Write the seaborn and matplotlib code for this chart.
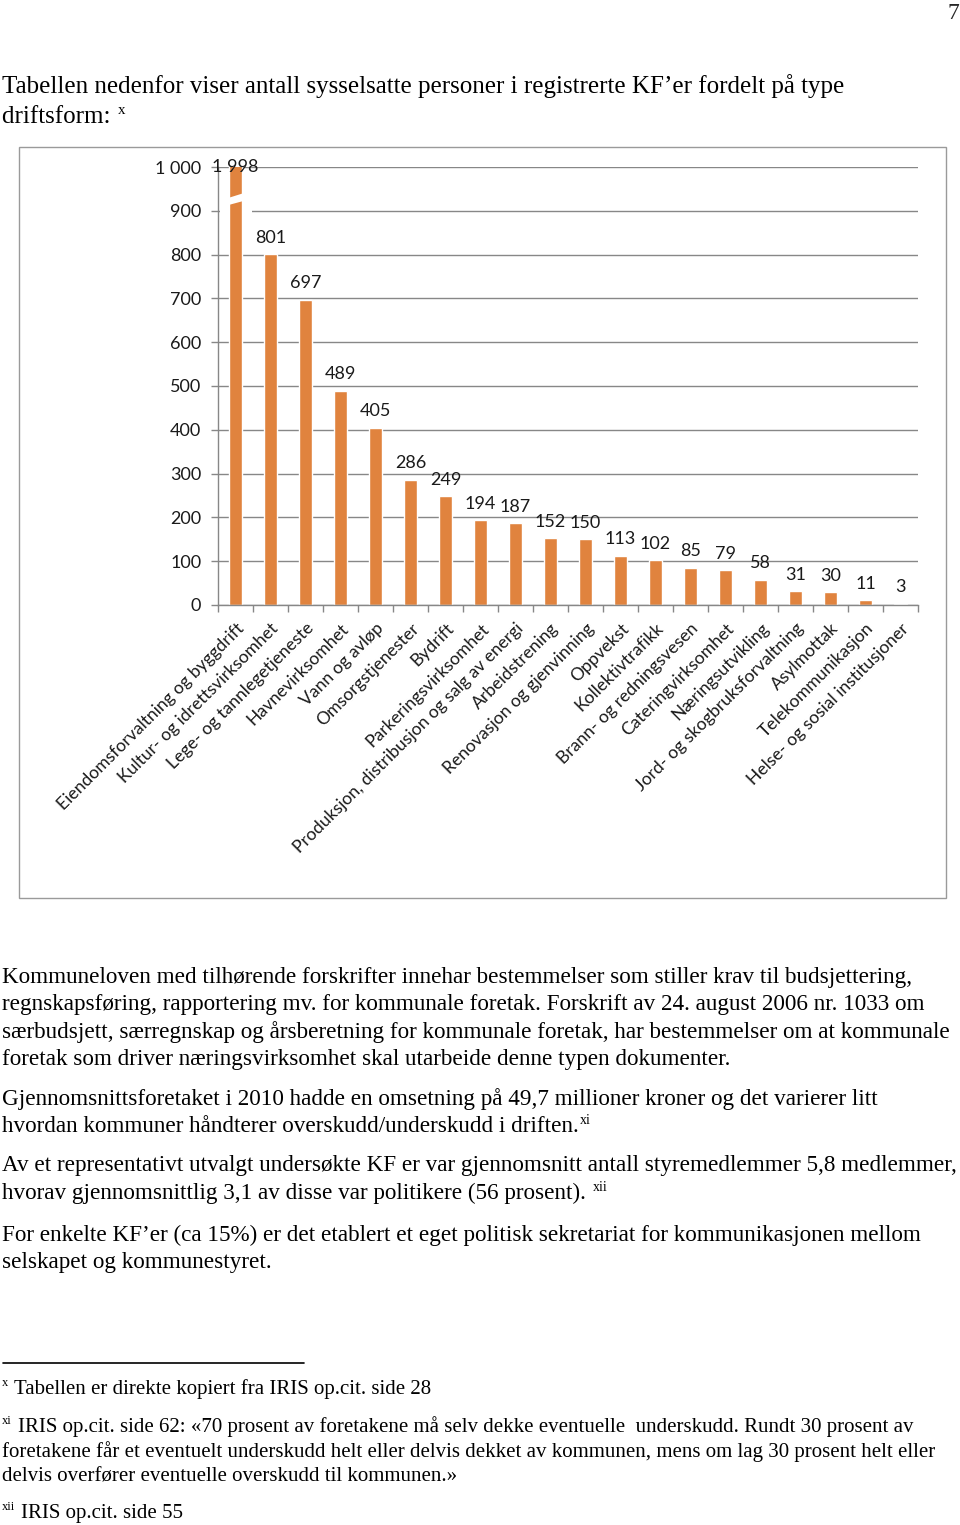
import numpy as np
import pandas as pd
import seaborn as sns
import matplotlib.pyplot as plt
from matplotlib.patches import Rectangle, Polygon

# Data (number of employees per KF type)
categories = [
    "Eiendomsforvaltning og byggdrift",
    "Kultur- og idrettsvirksomhet",
    "Lege- og tannlegetjeneste",
    "Havnevirksomhet",
    "Vann og avløp",
    "Omsorgstjenester",
    "Bydrift",
    "Parkeringsvirksomhet",
    "Produksjon, distribusjon og salg av energi",
    "Arbeidstrening",
    "Renovasjon og gjenvinning",
    "Oppvekst",
    "Kollektivtrafikk",
    "Brann- og redningsvesen",
    "Cateringvirksomhet",
    "Næringsutvikling",
    "Jord- og skogbruksforvaltning",
    "Asylmottak",
    "Telekommunikasjon",
    "Helse- og sosial institusjoner",
]
employees = [1998, 801, 697, 489, 405, 286, 249, 194, 187, 152,
             150, 113, 102, 85, 79, 58, 31, 30, 11, 3]
y_ticks = [0, 100, 200, 300, 400, 500, 600, 700, 800, 900, 1000]
y_tick_labels = ["0", "100", "200", "300", "400", "500", "600", "700", "800", "900", "1 000"]

df = pd.DataFrame({"driftsform": categories, "ansatte": employees})

sns.set_theme(style="white")
plt.rcParams["font.family"] = ["Lato", "DejaVu Sans"]
serif = ["Liberation Serif", "DejaVu Serif"]

W, H = 960, 1525
fig = plt.figure(figsize=(W / 100, H / 100), dpi=100)
fig.patch.set_facecolor("white")


def fx(px):
    return px / W


def fy(py):
    return 1 - py / H


grid_col = "#878787"
bar_col = "#E0833E"
ink = "#1a1a1a"

ax = fig.add_axes([fx(218), fy(605), fx(918) - fx(218), fy(167) - fy(605)])
sns.barplot(data=df, x="driftsform", y="ansatte", color=bar_col, saturation=1,
            width=0.36, ax=ax)
n = len(categories)
ax.set_xlim(-0.5, n - 0.5)
ax.set_ylim(0, 1000)
ax.set_xlabel("")
ax.set_ylabel("")

ax.grid(axis="y", color=grid_col, lw=1)
ax.set_axisbelow(True)
for side in ["top", "right"]:
    ax.spines[side].set_visible(False)
for side in ["left", "bottom"]:
    ax.spines[side].set_color(grid_col)
    ax.spines[side].set_linewidth(1)

ax.set_yticks(y_ticks, y_tick_labels)
ax.tick_params(axis="y", length=5, width=1, color=grid_col, pad=7,
               labelsize=13, labelcolor=ink, left=True)
ax.set_xticks(range(n), categories)
plt.setp(ax.get_xticklabels(), rotation=45, ha="right", rotation_mode="anchor",
         fontsize=12.6, color=ink)
ax.tick_params(axis="x", which="major", length=0, pad=11)
ax.set_xticks(np.arange(-0.5, n, 1), minor=True)
ax.tick_params(axis="x", which="minor", length=5, width=1, color=grid_col, bottom=True)

# value labels
for i, v in enumerate(employees):
    label = f"{v:,}".replace(",", " ")
    if v > 1000:
        ax.text(i, 1000, label, ha="center", va="center", fontsize=13, color=ink,
                zorder=6)
    else:
        ax.annotate(label, (i, v), xytext=(0, 6), textcoords="offset points",
                    ha="center", va="bottom", fontsize=13, color=ink)

# axis break on the first bar
ax.add_patch(Rectangle((-0.45, 895), 0.92, 10, facecolor="white", edgecolor="none",
                       zorder=0.8))
ax.add_patch(Polygon([(-0.3, 911), (0.3, 924), (0.3, 942), (-0.3, 927)], closed=True,
                     facecolor="white", edgecolor="none", zorder=5))

# chart frame
fig.patches.append(Rectangle((fx(19), fy(898)), fx(946) - fx(19), fy(147) - fy(898),
                             transform=fig.transFigure, fill=False,
                             edgecolor="#9a9a9a", lw=1))

renderer = fig.canvas.get_renderer()


def line(x, y, s, size, sup=None):
    t = fig.text(fx(x), fy(y), s, fontsize=size, family=serif, va="baseline", color="black")
    if sup:
        bb = t.get_window_extent(renderer)
        fig.text(bb.x1 / W + 1 / W, fy(y - size * 0.5), sup, fontsize=size * 0.6,
                 family=serif, va="baseline", color="black")


def foot(y, sup, s, size, text_x):
    fig.text(fx(2), fy(y - size * 0.5), sup, fontsize=size * 0.6, family=serif,
             va="baseline", color="black")
    fig.text(fx(text_x), fy(y), s, fontsize=size, family=serif, va="baseline", color="black")


fig.text(fx(959), fy(19), "7", fontsize=17, family=serif, ha="right", va="baseline")

line(2, 93, "Tabellen nedenfor viser antall sysselsatte personer i registrerte KF’er fordelt på type", 18)
line(2, 123, "driftsform: ", 18, sup="x")

body = 16.7
line(2, 983, "Kommuneloven med tilhørende forskrifter innehar bestemmelser som stiller krav til budsjettering,", body)
line(2, 1010, "regnskapsføring, rapportering mv. for kommunale foretak. Forskrift av 24. august 2006 nr. 1033 om", body)
line(2, 1038, "særbudsjett, særregnskap og årsberetning for kommunale foretak, har bestemmelser om at kommunale", body)
line(2, 1065, "foretak som driver næringsvirksomhet skal utarbeide denne typen dokumenter.", body)
line(2, 1105, "Gjennomsnittsforetaket i 2010 hadde en omsetning på 49,7 millioner kroner og det varierer litt", body)
line(2, 1132, "hvordan kommuner håndterer overskudd/underskudd i driften.", body, sup="xi")
line(2, 1171, "Av et representativt utvalgt undersøkte KF er var gjennomsnitt antall styremedlemmer 5,8 medlemmer,", body)
line(2, 1199, "hvorav gjennomsnittlig 3,1 av disse var politikere (56 prosent). ", body, sup="xii")
line(2, 1241, "For enkelte KF’er (ca 15%) er det etablert et eget politisk sekretariat for kommunikasjonen mellom", body)
line(2, 1268, "selskapet og kommunestyret.", body)

fig.add_artist(plt.Line2D([fx(3), fx(304)], [fy(1363), fy(1363)], color="black", lw=1.2))

fs = 15
foot(1394, "x", "Tabellen er direkte kopiert fra IRIS op.cit. side 28", fs, 14)
foot(1432, "xi", "IRIS op.cit. side 62: «70 prosent av foretakene må selv dekke eventuelle  underskudd. Rundt 30 prosent av", fs, 18)
line(2, 1457, "foretakene får et eventuelt underskudd helt eller delvis dekket av kommunen, mens om lag 30 prosent helt eller", fs)
line(2, 1482, "delvis overfører eventuelle overskudd til kommunen.»", fs)
foot(1518, "xii", "IRIS op.cit. side 55", fs, 21)

fig.savefig("out.png", dpi=100, facecolor="white")
